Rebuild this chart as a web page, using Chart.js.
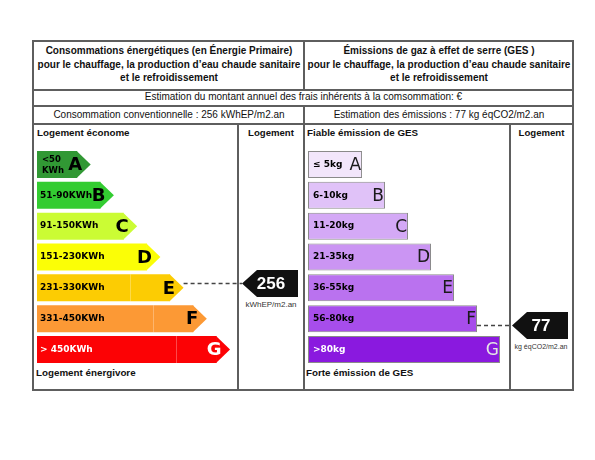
<!DOCTYPE html>
<html><head><meta charset="utf-8">
<script src="https://cdn.jsdelivr.net/npm/chart.js@4/dist/chart.umd.min.js"></script>
<style>
html,body{margin:0;padding:0;background:#fff;}
#page{position:relative;width:595px;height:460px;overflow:hidden;background:#fff;font-family:"Liberation Sans",Arial,sans-serif;color:#111;}
.ln{position:absolute;background:#5e5e5e;z-index:3;}
.t{position:absolute;white-space:nowrap;}
.c{text-align:center;}
.b{font-weight:bold;}
canvas{position:absolute;z-index:2;}
</style></head>
<body><div id="page">
<div class="t c b" style="left:34px;width:270px;top:44px;line-height:13.5px;font-size:10px;">Consommations énergétiques (en Énergie Primaire)<br>pour le chauffage, la production d’eau chaude sanitaire<br>et le refroidissement</div>
<div class="t c b" style="left:304px;width:270px;top:44px;line-height:13.5px;font-size:10px;">Émissions de gaz à effet de serre (GES )<br>pour le chauffage, la production d’eau chaude sanitaire<br>et le refroidissement</div>
<div class="t c" style="left:34px;width:539px;top:90px;line-height:14px;font-size:10px;">Estimation du montant annuel des frais inhérents à la comsommation: €</div>
<div class="t c" style="left:34px;width:270px;top:108px;line-height:14px;font-size:10px;">Consommation conventionnelle : 256 kWhEP/m2.an</div>
<div class="t c" style="left:304px;width:270px;top:108px;line-height:14px;font-size:10px;">Estimation des émissions : 77 kg éqCO2/m2.an</div>
<div class="t b" style="left:37px;top:127px;line-height:12px;font-size:9.8px;">Logement économe</div>
<div class="t c b" style="left:238px;width:66px;top:127px;line-height:12px;font-size:9.6px;">Logement</div>
<div class="t b" style="left:307px;top:127px;line-height:12px;font-size:9.8px;">Fiable émission de GES</div>
<div class="t c b" style="left:510px;width:63px;top:127px;line-height:12px;font-size:9.6px;">Logement</div>
<div class="t b" style="left:36px;top:367px;line-height:12px;font-size:9.8px;">Logement énergivore</div>
<div class="t b" style="left:306px;top:367px;line-height:12px;font-size:9.8px;">Forte émission de GES</div>
<div class="t c" style="left:238px;width:66px;top:300px;line-height:10px;font-size:8px;color:#333;">kWhEP/m2.an</div>
<div class="t c" style="left:510px;width:62px;top:342px;line-height:10px;font-size:7px;color:#333;">kg éqCO2/m2.an</div>
<canvas id="ce" width="269" height="264" style="left:34px;top:125px;"></canvas>
<canvas id="cg" width="267" height="264" style="left:305px;top:125px;"></canvas>
</div>
<script>
// ---- data ----
const classes = ['A','B','C','D','E','F','G'];
const classRank = [1,2,3,4,5,6,7];
const energyRanges = [['<50','KWh'],'51-90KWh','91-150KWh','151-230KWh','231-330KWh','331-450KWh','> 450KWh'];
const energyLower = [0,51,91,151,231,331,451];
const energyUpper = [50,90,150,230,330,450,99999];
const energyValue = 256;
const gesRanges = ['≤ 5kg','6-10kg','11-20kg','21-35kg','36-55kg','56-80kg','>80kg'];
const gesLower = [0,6,11,21,36,56,81];
const gesUpper = [5,10,20,35,55,80,99999];
const gesValue = 77;

// ---- styles ----
const energyColors = ['#319834','#33cc31','#cbfc34','#fbfe06','#fccc03','#fc9935','#fc0205'];
const gesColors = ['#f2e6fb','#e0c2f8','#d4a9f6','#cb95f3','#ba72ef','#a74deb','#8a19df'];

// frame lines
const page = document.getElementById('page');
function hl(x1,x2,y){const d=document.createElement('div');d.className='ln';d.style.cssText=`left:${x1-1}px;top:${y-1}px;width:${x2-x1+2}px;height:2px;`;page.appendChild(d);}
function vl(x,y1,y2){const d=document.createElement('div');d.className='ln';d.style.cssText=`left:${x-1}px;top:${y1-1}px;width:2px;height:${y2-y1+2}px;`;page.appendChild(d);}
hl(33,573,41);hl(33,573,390);hl(33,573,90);hl(33,573,106);hl(33,573,124);
vl(33,41,390);vl(573,41,390);vl(304,41,90);vl(304,106,390);vl(238,124,390);vl(510,124,390);

function findClass(v,lo,up){for(let i=0;i<up.length;i++){if(v<=up[i])return i;}return up.length-1;}

function drawMarker(ctx,tipX,y,h,text){
  ctx.save();
  ctx.fillStyle='#111';
  ctx.beginPath();
  ctx.moveTo(tipX,y);ctx.lineTo(tipX+15,y-h/2);ctx.lineTo(tipX+56,y-h/2);ctx.lineTo(tipX+56,y+h/2);ctx.lineTo(tipX+15,y+h/2);ctx.closePath();ctx.fill();
  ctx.fillStyle='#fff';ctx.font='bold 17px "Liberation Sans", Arial, sans-serif';
  ctx.textAlign='center';ctx.textBaseline='middle';
  ctx.fillText(text,tipX+29,y+1);
  ctx.restore();
}
function dashed(ctx,x1,x2,y){
  ctx.save();ctx.strokeStyle='#444';ctx.lineWidth=1.5;ctx.setLineDash([4,3]);
  ctx.beginPath();ctx.moveTo(x1,y);ctx.lineTo(x2,y);ctx.stroke();ctx.restore();
}

const energyPlugin={id:'energyArrows',afterDatasetsDraw(chart){
  const ctx=chart.ctx;const meta=chart.getDatasetMeta(0);
  meta.data.forEach((el,i)=>{
    const h=el.height, top=el.y-h/2, bot=el.y+h/2, tip=el.x+h/2;
    ctx.save();
    ctx.fillStyle=energyColors[i];
    ctx.beginPath();ctx.moveTo(el.x-0.5,top);ctx.lineTo(tip,el.y);ctx.lineTo(el.x-0.5,bot);ctx.closePath();ctx.fill();
    if(i>=4){ctx.fillStyle='rgba(255,255,255,0.28)';ctx.fillRect(Math.round(tip-54),top,1,h);}
    const dark=i<6?'#000':'#fff';
    ctx.fillStyle=dark;ctx.textBaseline='middle';ctx.textAlign='left';
    const lab=energyRanges[i];
    if(Array.isArray(lab)){
      ctx.font='bold 8.5px "DejaVu Sans", sans-serif';
      ctx.fillText(lab[0],el.base+5,el.y-5);ctx.fillText(lab[1],el.base+5,el.y+6);
    } else {
      ctx.font='bold 9px "DejaVu Sans", sans-serif';
      ctx.fillText(lab,el.base+3,el.y);
    }
    ctx.font='bold 18px "DejaVu Sans", sans-serif';ctx.textAlign='right';
    ctx.fillText(classes[i],el.x+5,el.y+1);
    ctx.restore();
  });
  const ci=findClass(energyValue,energyLower,energyUpper);
  const el=meta.data[ci];
  const frac=(energyValue-energyLower[ci])/(energyUpper[ci]-energyLower[ci]);
  const y=el.y+(frac-0.5)*el.height*0.67;
  const tipX=242-34;
  dashed(ctx,el.x+el.height/2,tipX,y);
  drawMarker(ctx,tipX,y,27,String(energyValue));
}};

const gesPlugin={id:'gesLabels',afterDatasetsDraw(chart){
  const ctx=chart.ctx;const meta=chart.getDatasetMeta(0);
  meta.data.forEach((el,i)=>{
    ctx.save();
    const light=i===6;
    ctx.fillStyle=light?'#fff':'#000';ctx.textBaseline='middle';ctx.textAlign='left';
    ctx.font='bold 9px "DejaVu Sans", sans-serif';
    ctx.fillText(gesRanges[i],el.base+5,el.y);
    ctx.fillStyle=light?'#e4e4e4':'#1a1a1a';
    ctx.font='17px "DejaVu Sans", sans-serif';ctx.textAlign='right';
    ctx.fillText(classes[i],el.x-1,el.y+1);
    ctx.restore();
  });
  const ci=findClass(gesValue,gesLower,gesUpper);
  const el=meta.data[ci];
  const frac=(gesValue-gesLower[ci])/(gesUpper[ci]-gesLower[ci]);
  const y=el.y+(frac-0.5)*el.height*0.67;
  const tipX=512-305;
  dashed(ctx,el.x,tipX,y);
  drawMarker(ctx,tipX,y,27,String(gesValue));
}};

function makeChart(id,colors,base,max,pad,plugin,border){
  return new Chart(document.getElementById(id),{
    type:'bar',
    data:{labels:classes,datasets:[{data:classRank,backgroundColor:colors,base:base,
      barPercentage:0.875,categoryPercentage:1,
      borderWidth:border?1:0,borderColor:'#8a8a8a',borderSkipped:false}]},
    options:{indexAxis:'y',responsive:false,animation:false,devicePixelRatio:1,
      layout:{padding:pad},
      plugins:{legend:{display:false},tooltip:{enabled:false}},
      scales:{x:{type:'linear',min:base,max:max,display:false},
              y:{type:'category',display:false}}},
    plugins:[plugin]
  });
}
makeChart('ce',energyColors,-0.73,9,{left:3,right:40,top:24,bottom:24},energyPlugin,false);
makeChart('cg',gesColors,-1.35,9,{left:3,right:26,top:24,bottom:24},gesPlugin,true);
</script>
</body></html>
